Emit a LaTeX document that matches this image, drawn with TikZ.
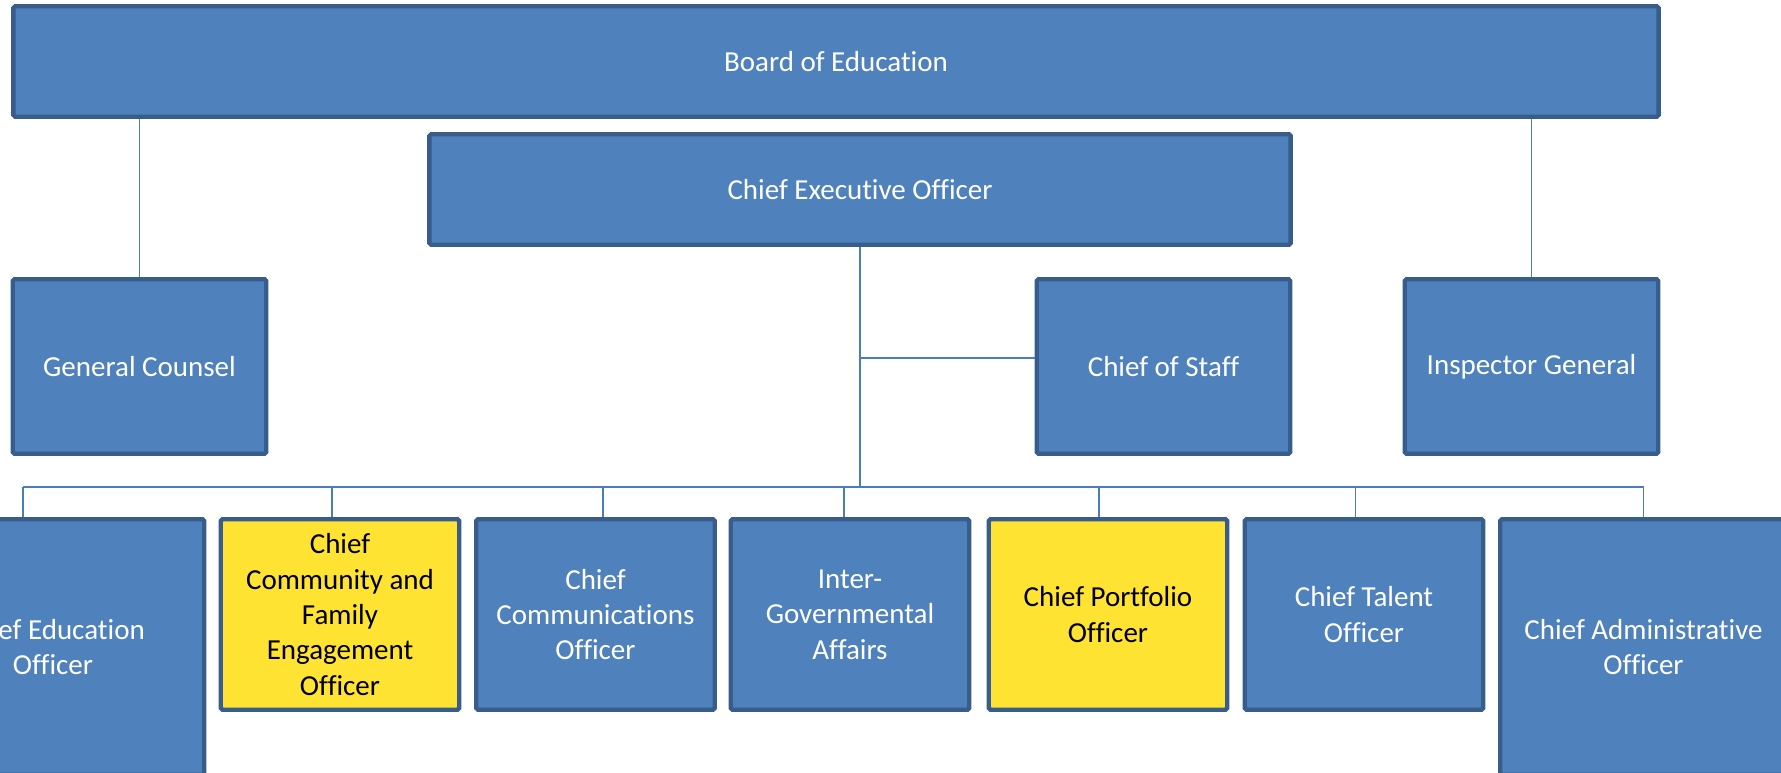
\documentclass[tikz,border=0pt]{standalone}
\usepackage{fontspec}
\setmainfont[Ligatures=NoCommon]{Carlito}
\usepackage{tikz}
\usepackage{xcolor}
\definecolor{orgblue}{RGB}{79,129,189}
\definecolor{orgedge}{RGB}{56,93,138}
\definecolor{orgline}{RGB}{74,126,187}
\definecolor{orgyellow}{RGB}{255,227,50}
\tikzstyle{office} = [rectangle, rounded corners=1pt, draw=orgedge, line width=2.5pt, fill=orgblue, text=white, align=center, inner sep=0pt, font=\fontsize{16.5}{20.1}\selectfont]
\tikzstyle{wide} = [office, minimum height=2.21cm]
\tikzstyle{mid} = [office, minimum width=5.07cm, minimum height=3.49cm]
\tikzstyle{chief} = [office, minimum width=4.77cm, minimum height=3.81cm]
\tikzstyle{tall} = [office, minimum width=5.73cm, minimum height=5.11cm]
\tikzstyle{flagged} = [fill=orgyellow, text=black]
\tikzstyle{link} = [draw=orgline, line width=0.85pt]

\begin{document}
\begin{tikzpicture}[x=0.02cm, y=-0.02cm]
\useasboundingbox (0,0) rectangle (1781,773);

% Board and CEO
\node[wide, minimum width=32.91cm] (board) at (836,61.5) {Board of Education};
\node[wide, minimum width=17.23cm] (ceo) at (860,189.5) {Chief Executive Officer};

% Second row
\node[mid] (counsel) at (139.5,366.5) {General Counsel};
\node[mid] (staff) at (1163.5,366.5) {Chief of Staff};
\node[mid] (inspector) at (1531.5,366.5) {Inspector General};

% Chiefs
\node[tall, minimum width=6.05cm] (education) at (53,647) {Chief Education\\Officer};
\node[chief, flagged] (community) at (340,614.5) {Chief\\Community and\\Family\\Engagement\\Officer};
\node[chief] (comms) at (595.5,614.5) {Chief\\Communications\\Officer};
\node[chief] (intergov) at (850,614.5) {Inter-\\Governmental\\Affairs};
\node[chief, flagged] (portfolio) at (1108,614.5) {Chief Portfolio\\Officer};
\node[chief] (talent) at (1364,614.5) {Chief Talent\\Officer};
\node[tall] (admin) at (1643.5,647) {Chief Administrative\\Officer};

% Connectors
\draw[link] (board.south -| counsel.north) -- (counsel.north);
\draw[link] (board.south -| inspector.north) -- (inspector.north);
\coordinate (hub) at (860,487);
\coordinate (staffjoin) at (860,358);
\draw[link] (ceo.south) -- (hub);
\draw[link] (staffjoin) -- (staffjoin -| staff.west);
\coordinate (busl) at (23,487);
\coordinate (busr) at (1643.5,487);
\draw[link] (busl) -- (busr);
\foreach \n/\x in {education/23, community/332, comms/603, intergov/843.8, portfolio/1099, talent/1355.6, admin/1643.5}{
  \coordinate (d\n) at (\x,487);
  \draw[link] (d\n) -- (d\n |- \n.north);
}
\end{tikzpicture}
\end{document}
